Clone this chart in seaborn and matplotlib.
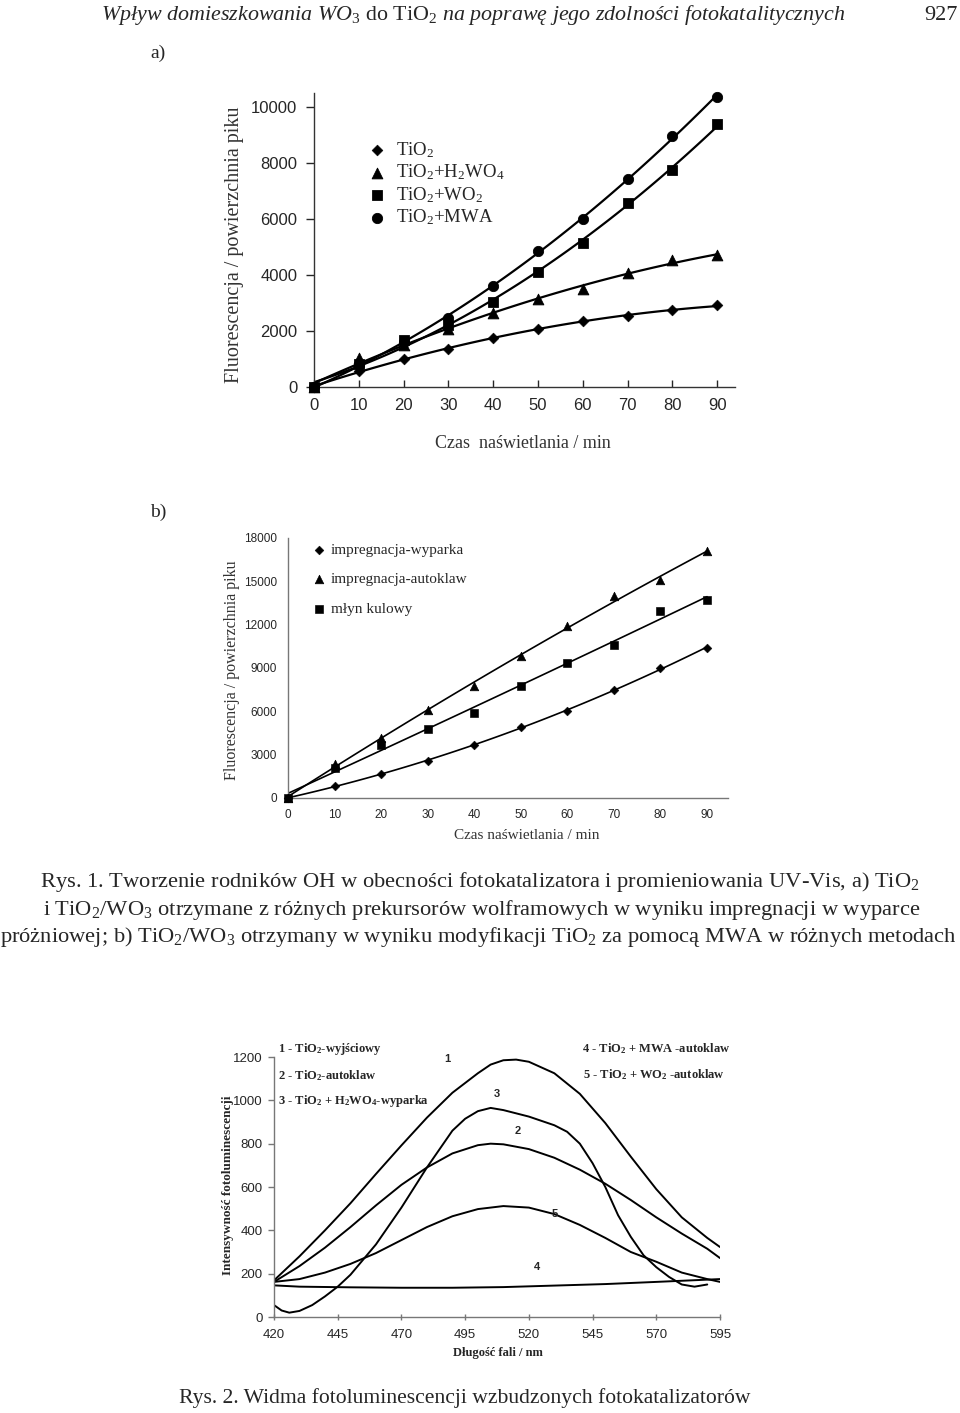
import numpy as np
import matplotlib
matplotlib.use("Agg")
import matplotlib.pyplot as plt
import seaborn as sns

sns.set_style("ticks")
plt.rcParams["font.family"] = ["Liberation Serif", "DejaVu Serif"]
plt.rcParams["mathtext.fontset"] = "custom"
plt.rcParams["mathtext.rm"] = "Liberation Serif"
plt.rcParams["mathtext.it"] = "Liberation Serif:italic"
plt.rcParams["mathtext.bf"] = "Liberation Serif:bold"

# ---- data: Rys. 1a ----
czas = [0, 10, 20, 30, 40, 50, 60, 70, 80, 90]
a_tio2 = [0, 560, 1010, 1370, 1750, 2080, 2360, 2520, 2740, 2920]
a_h2wo4 = [0, 1035, 1490, 2080, 2640, 3150, 3510, 4070, 4520, 4700]
a_wo2 = [0, 830, 1670, 2200, 3040, 4110, 5150, 6580, 7740, 9400]
a_mwa = [0, 770, 1600, 2480, 3600, 4860, 6010, 7440, 8950, 10360]

# ---- data: Rys. 1b ----
b_wyparka = [0, 850, 1660, 2540, 3650, 4920, 6050, 7500, 8980, 10390]
b_autoklaw = [0, 2350, 4150, 6120, 7730, 9850, 11880, 13960, 15120, 17080]
b_mlyn = [0, 2080, 3690, 4800, 5880, 7780, 9350, 10620, 12920, 13730]

# ---- data: Rys. 2 (widma) ----
fal_1 = [420, 430, 440, 450, 460, 470, 480, 490, 500, 505, 510, 515, 520, 530, 540, 550, 560, 570, 580, 590, 595]
pl_1 = [169, 280, 400, 525, 660, 792, 920, 1035, 1125, 1165, 1185, 1188, 1178, 1125, 1030, 895, 740, 590, 460, 365, 323]
fal_2 = [420, 430, 440, 450, 460, 470, 480, 490, 500, 505, 510, 520, 530, 540, 550, 560, 570, 580, 590, 595]
pl_2 = [162, 235, 320, 415, 515, 610, 690, 755, 793, 800, 797, 775, 735, 680, 615, 540, 460, 385, 315, 272]
fal_3 = [420, 423, 426, 430, 435, 440, 445, 450, 460, 470, 480, 490, 495, 500, 505, 510, 520, 530, 535,
         540, 545, 550, 555, 560, 565, 570, 575, 580, 585, 590]
pl_3 = [55, 30, 20, 28, 55, 95, 140, 195, 335, 505, 690, 860, 915, 950, 965, 955, 925, 885, 855,
        800, 710, 600, 470, 370, 285, 230, 185, 150, 140, 150]
fal_4 = [420, 430, 450, 470, 490, 510, 530, 550, 570, 595]
pl_4 = [146, 140, 137, 135, 135, 138, 145, 152, 162, 175]
fal_5 = [420, 430, 440, 450, 460, 470, 480, 490, 500, 510, 520, 530, 540, 550, 560, 570, 580, 590, 595]
pl_5 = [162, 175, 205, 245, 295, 355, 415, 465, 498, 512, 505, 475, 425, 365, 300, 255, 205, 175, 162]

W, H = 960, 1413
fig = plt.figure(figsize=(W / 100, H / 100), dpi=100)


def px_axes(left, top, right, bottom):
    return fig.add_axes([left / W, 1 - bottom / H, (right - left) / W, (bottom - top) / H])


def ftext(x, y, s, **kw):
    fig.text(x / W, 1 - y / H, s, **kw)


def trend(ax, x, y, lw):
    c = np.polyfit(x, y, 2)
    xx = np.linspace(min(x), max(x), 120)
    sns.lineplot(x=xx, y=np.polyval(c, xx), ax=ax, color="black", lw=lw)


def style_axes(ax, color):
    sns.despine(ax=ax)
    for s in ["left", "bottom"]:
        ax.spines[s].set_color(color)
        ax.spines[s].set_linewidth(1.0)
    ax.set_xlabel("")
    ax.set_ylabel("")


# ================= Rys. 1a =================
ax = px_axes(314, 93, 735, 387)
series_a = [(a_tio2, "D", 30, "TiO$_2$"),
            (a_h2wo4, "^", 60, "TiO$_2$+H$_2$WO$_4$"),
            (a_wo2, "s", 50, "TiO$_2$+WO$_2$"),
            (a_mwa, "o", 55, "TiO$_2$+MWA")]
for vals, m, s, lab in series_a:
    trend(ax, czas, vals, 1.6)
    sns.scatterplot(x=czas, y=vals, ax=ax, marker=m, s=s, color="black",
                    edgecolor="black", label=lab, clip_on=False, zorder=5)
ax.set_xlim(0, 94)
ax.set_ylim(0, 10500)
ax.set_xticks(range(0, 91, 10))
ax.set_yticks(range(0, 10001, 2000))
style_axes(ax, "#333333")
ax.tick_params(axis="y", direction="out", length=6, width=1, labelsize=12, pad=6)
ax.tick_params(axis="x", direction="in", length=5, width=1, labelsize=12, pad=8)
for t in ax.get_xticklabels() + ax.get_yticklabels():
    t.set_fontfamily("Liberation Sans")
ax.legend(loc="upper left", bbox_to_anchor=(368 / W, 1 - 140 / H), bbox_transform=fig.transFigure,
          frameon=False, fontsize=13.5, handlelength=1.0, handletextpad=0.5, labelspacing=0.15,
          borderpad=0, borderaxespad=0)
ftext(235, 245, "Fluorescencja / powierzchnia piku", rotation=90, ha="center", va="center",
      fontsize=14.5, color="#333333")
ftext(523, 443, "Czas  naświetlania / min", ha="center", va="center", fontsize=13, color="#333333")
ftext(150, 53, "a)", ha="left", va="center", fontsize=14)

# ================= Rys. 1b =================
ax = px_axes(288, 538, 728, 798)
series_b = [(b_wyparka, "D", 20, "impregnacja-wyparka"),
            (b_autoklaw, "^", 38, "impregnacja-autoklaw"),
            (b_mlyn, "s", 30, "młyn kulowy")]
for vals, m, s, lab in series_b:
    trend(ax, czas, vals, 1.2)
    sns.scatterplot(x=czas, y=vals, ax=ax, marker=m, s=s, color="black",
                    edgecolor="black", label=lab, clip_on=False, zorder=5)
ax.set_xlim(0, 94.5)
ax.set_ylim(0, 18000)
ax.set_xticks(range(0, 91, 10))
ax.set_yticks(range(0, 18001, 3000))
style_axes(ax, "#777777")
ax.tick_params(axis="both", length=0, labelsize=8.5, pad=8)
for t in ax.get_xticklabels() + ax.get_yticklabels():
    t.set_fontfamily("Liberation Sans")
ax.legend(loc="upper left", bbox_to_anchor=(313 / W, 1 - 543 / H), bbox_transform=fig.transFigure,
          frameon=False, fontsize=11, handlelength=0.8, handletextpad=0.35, labelspacing=1.05,
          borderpad=0, borderaxespad=0)
ftext(232, 670, "Fluorescencja / powierzchnia piku", rotation=90, ha="center", va="center",
      fontsize=11.5, color="#333333")
ftext(527, 835, "Czas naświetlania / min", ha="center", va="center", fontsize=11, color="#333333")
ftext(150, 512, "b)", ha="left", va="center", fontsize=14)

# ================= caption Rys. 1 =================
cap = 16.2
ftext(40, 887, "Rys. 1. Tworzenie rodników OH w obecności fotokatalizatora i promieniowania UV-Vis, a) TiO$_2$",
      ha="left", va="baseline", fontsize=cap)
ftext(43, 915, "i TiO$_2$/WO$_3$ otrzymane z różnych prekursorów wolframowych w wyniku impregnacji w wyparce",
      ha="left", va="baseline", fontsize=cap)
ftext(0, 942, "próżniowej; b) TiO$_2$/WO$_3$ otrzymany w wyniku modyfikacji TiO$_2$ za pomocą MWA w różnych metodach",
      ha="left", va="baseline", fontsize=cap)

# ================= Rys. 2 =================
ax = px_axes(274, 1057, 720, 1317)
for f, v in [(fal_1, pl_1), (fal_2, pl_2), (fal_3, pl_3), (fal_4, pl_4), (fal_5, pl_5)]:
    sns.lineplot(x=f, y=v, ax=ax, color="black", lw=1.4, sort=False)
ax.set_xlim(420, 595)
ax.set_ylim(0, 1200)
ax.set_xticks(range(420, 596, 25))
ax.set_yticks(range(0, 1201, 200))
style_axes(ax, "#777777")
ax.tick_params(axis="y", direction="out", length=4, width=1, color="#777777", labelsize=9.5, pad=4)
ax.tick_params(axis="x", direction="inout", length=5, width=1, color="#777777", labelsize=9.5, pad=6)
for t in ax.get_xticklabels() + ax.get_yticklabels():
    t.set_fontfamily("Liberation Sans")
for lab, x, y in [("1", 488, 1190), ("3", 507.5, 1030), ("2", 515.5, 858), ("5", 530, 475), ("4", 523, 231)]:
    ax.text(x, y, lab, ha="center", va="center", fontsize=8, fontweight="bold", family="Liberation Sans")
bold = dict(ha="left", va="center", fontsize=9, fontweight="bold")
ftext(278, 1049, r"1 - TiO$_\mathbf{2}$-wyjściowy", **bold)
ftext(278, 1076, r"2 - TiO$_\mathbf{2}$-autoklaw", **bold)
ftext(278, 1101, r"3 - TiO$_\mathbf{2}$ + H$_\mathbf{2}$WO$_\mathbf{4}$-wyparka", **bold)
ftext(582, 1049, r"4 - TiO$_\mathbf{2}$ + MWA -autoklaw", **bold)
ftext(583, 1075, r"5 - TiO$_\mathbf{2}$ + WO$_\mathbf{2}$ -autoklaw", **bold)
ftext(228, 1185, "Intensywność fotoluminescencji", rotation=90, ha="center", va="center",
      fontsize=9.5, fontweight="bold")
ftext(498, 1353, "Długość fali / nm", ha="center", va="center", fontsize=9, fontweight="bold")

# ================= header and caption Rys. 2 =================
ftext(101, 20, r"Wpływ domieszkowania WO$_3$ $\mathrm{do\ TiO_2}$ na poprawę jego zdolności fotokatalitycznych",
      ha="left", va="baseline", fontsize=15.8, fontstyle="italic")
ftext(958, 20, "927", ha="right", va="baseline", fontsize=16)
ftext(179, 1403, "Rys. 2. Widma fotoluminescencji wzbudzonych fotokatalizatorów",
      ha="left", va="baseline", fontsize=15.6)

fig.savefig("out.png", dpi=100)
